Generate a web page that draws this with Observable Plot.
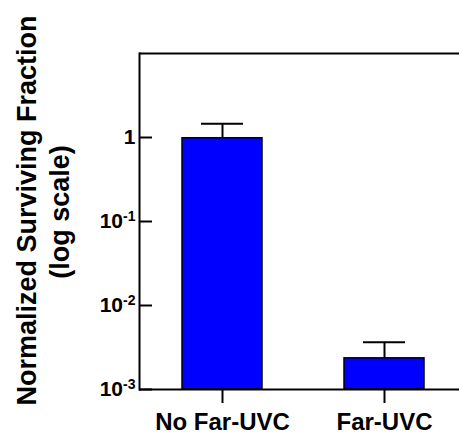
<!DOCTYPE html>
<html>
<head>
<meta charset="utf-8">
<script src="https://cdn.jsdelivr.net/npm/d3@7"></script>
<script src="https://cdn.jsdelivr.net/npm/@observablehq/plot@0.6"></script>
<style>
  html, body { margin: 0; padding: 0; background: white; }
  #chart { width: 459px; height: 433px; overflow: hidden; }
</style>
</head>
<body>
<div id="chart"></div>
<script>
const categories = ["No Far-UVC", "Far-UVC"];
const values = [0.98, 0.00235];
const errorUpper = [1.46, 0.00366];
const yTicks = [1e-3, 1e-2, 1e-1, 1];
const yTickLabels = ["10^-3", "10^-2", "10^-1", "1"];
const titleLines = ["Normalized Surviving Fraction", "(log scale)"];

const data = categories.map((c, i) => ({category: c, value: values[i], upper: errorUpper[i]}));

const font = "'Liberation Sans', Arial, sans-serif";

const chart = Plot.plot({
  width: 459,
  height: 433,
  marginLeft: 139,
  marginRight: 0,
  marginTop: 53,
  marginBottom: 44,
  style: {fontFamily: font, background: "white", color: "black"},
  x: {domain: categories, range: [139, 466], paddingInner: 0.509, paddingOuter: 0.258, label: null},
  y: {type: "log", domain: [1e-3, 10], label: null},
  marks: [
    Plot.barY(data, {x: "category", y1: 1e-3, y2: "value", fill: "#0000FF", stroke: "black", strokeWidth: 1.5}),
    Plot.ruleX(data, {x: "category", y1: "value", y2: "upper", stroke: "black", strokeWidth: 2}),
    Plot.tickY(data, {x: "category", y: "upper", insetLeft: 19, insetRight: 19, stroke: "black", strokeWidth: 2}),
    Plot.ruleY([1e-3], {stroke: "black", strokeWidth: 2}),
    Plot.ruleY([10], {stroke: "black", strokeWidth: 2}),
    Plot.frame({anchor: "left", stroke: "black", strokeWidth: 2}),
    Plot.axisY(yTicks, {
      tickSize: -13, tickPadding: 17, strokeWidth: 2,
      tickFormat: (d) => yTickLabels[yTicks.indexOf(d)],
      fontSize: 21, fontWeight: "bold", label: null
    }),
    Plot.axisX({tickSize: 14, tickPadding: 9, strokeWidth: 2, fontSize: 24, fontWeight: "bold", label: null}),
    Plot.text([titleLines[0]], {frameAnchor: "left", rotate: -90, dx: -112, dy: -11, fontSize: 27, fontWeight: "bold", lineAnchor: "middle", textAnchor: "middle"}),
    Plot.text([titleLines[1]], {frameAnchor: "left", rotate: -90, dx: -79, dy: -9.5, fontSize: 27, fontWeight: "bold", lineAnchor: "middle", textAnchor: "middle"})
  ]
});

document.getElementById("chart").appendChild(chart);

// Render "10^-n" tick labels with a real superscript.
d3.select(chart).selectAll("text").each(function() {
  const t = d3.select(this);
  const s = t.text();
  const m = /^10\^(-?\d+)$/.exec(s);
  if (m) {
    t.text(null);
    t.append("tspan").text("10");
    t.append("tspan").attr("font-size", 14).attr("dy", -7).text(m[1]);
  }
});
</script>
</body>
</html>
